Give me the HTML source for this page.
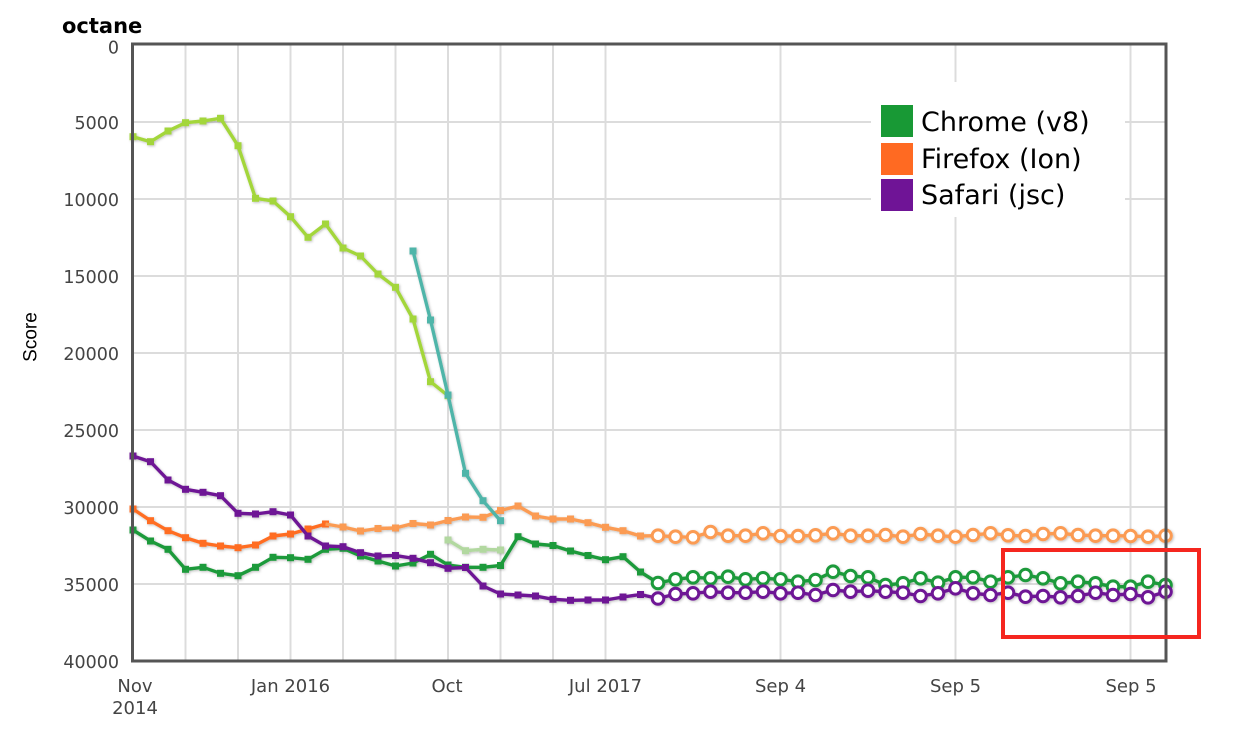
<!DOCTYPE html>
<html>
<head>
<meta charset="utf-8">
<style>
html,body{margin:0;padding:0;background:#fff;}
svg{display:block;}
</style>
</head>
<body>
<svg width="1236" height="734" viewBox="0 0 1236 734" xmlns="http://www.w3.org/2000/svg">
<defs>
<filter id="sh" x="-5%" y="-5%" width="110%" height="110%">
<feDropShadow dx="1" dy="1" stdDeviation="1.2" flood-color="#000" flood-opacity="0.25"/>
</filter>
<marker id="sqG" markerUnits="userSpaceOnUse" markerWidth="9" markerHeight="9" refX="4.5" refY="4.5" overflow="visible"><rect x="1" y="1" width="7" height="7" fill="#1f9a3b"/></marker>
<marker id="sqOd" markerUnits="userSpaceOnUse" markerWidth="9" markerHeight="9" refX="4.5" refY="4.5" overflow="visible"><rect x="1" y="1" width="7" height="7" fill="#ff6d21"/></marker>
<marker id="sqOl" markerUnits="userSpaceOnUse" markerWidth="9" markerHeight="9" refX="4.5" refY="4.5" overflow="visible"><rect x="1" y="1" width="7" height="7" fill="#fb9b52"/></marker>
<marker id="sqP" markerUnits="userSpaceOnUse" markerWidth="9" markerHeight="9" refX="4.5" refY="4.5" overflow="visible"><rect x="1" y="1" width="7" height="7" fill="#6e1795"/></marker>
<marker id="sqLG" markerUnits="userSpaceOnUse" markerWidth="9" markerHeight="9" refX="4.5" refY="4.5" overflow="visible"><rect x="1" y="1" width="7" height="7" fill="#a3d63a"/></marker>
<marker id="sqT" markerUnits="userSpaceOnUse" markerWidth="9" markerHeight="9" refX="4.5" refY="4.5" overflow="visible"><rect x="1" y="1" width="7" height="7" fill="#4fb5a9"/></marker>
<marker id="sqF" markerUnits="userSpaceOnUse" markerWidth="9" markerHeight="9" refX="4.5" refY="4.5" overflow="visible"><rect x="1" y="1" width="7" height="7" fill="#b2d8a0"/></marker>
<marker id="ciO" markerUnits="userSpaceOnUse" markerWidth="16" markerHeight="16" refX="8" refY="8" overflow="visible"><circle cx="8" cy="8" r="5.8" fill="#fff" stroke="#fb9b52" stroke-width="3"/></marker>
<marker id="ciG" markerUnits="userSpaceOnUse" markerWidth="16" markerHeight="16" refX="8" refY="8" overflow="visible"><circle cx="8" cy="8" r="5.8" fill="#fff" stroke="#1f9a3b" stroke-width="3"/></marker>
<marker id="ciP" markerUnits="userSpaceOnUse" markerWidth="16" markerHeight="16" refX="8" refY="8" overflow="visible"><circle cx="8" cy="8" r="5.8" fill="#fff" stroke="#6e1795" stroke-width="3"/></marker>
</defs>

<!-- gridlines -->
<g stroke="#dcdcdc" stroke-width="2">
<line x1="133" y1="122" x2="1166" y2="122"/>
<line x1="133" y1="199" x2="1166" y2="199"/>
<line x1="133" y1="276" x2="1166" y2="276"/>
<line x1="133" y1="353" x2="1166" y2="353"/>
<line x1="133" y1="430" x2="1166" y2="430"/>
<line x1="133" y1="507" x2="1166" y2="507"/>
<line x1="133" y1="584" x2="1166" y2="584"/>
<line x1="185.5" y1="44" x2="185.5" y2="661"/>
<line x1="238" y1="44" x2="238" y2="661"/>
<line x1="290.5" y1="44" x2="290.5" y2="661"/>
<line x1="343" y1="44" x2="343" y2="661"/>
<line x1="395.5" y1="44" x2="395.5" y2="661"/>
<line x1="448" y1="44" x2="448" y2="661"/>
<line x1="500.5" y1="44" x2="500.5" y2="661"/>
<line x1="553" y1="44" x2="553" y2="661"/>
<line x1="605.5" y1="44" x2="605.5" y2="661"/>
<line x1="780.5" y1="44" x2="780.5" y2="661"/>
<line x1="955.5" y1="44" x2="955.5" y2="661"/>
<line x1="1130.5" y1="44" x2="1130.5" y2="661"/>
</g>

<!-- legend background -->
<rect x="871" y="82" width="254" height="135" fill="#fff"/>

<!-- series -->
<g fill="none" stroke-width="3.4" stroke-linejoin="round" filter="url(#sh)">
<polyline stroke="#1f9a3b" marker-start="url(#sqG)" marker-mid="url(#sqG)" marker-end="url(#sqG)" points="133,530 150.5,541 168,549.3 185.5,569.3 203,567.3 220.5,573.3 238,575.7 255.5,567.3 273,557.3 290.5,557.7 308,559.3 325.5,549.3 343,548.3 360.5,556 378,561 395.5,566 413,563 430.5,554.3 448,565 465.5,567.3 483,567.3 500.5,565.5 518,536.7 535.5,544 553,545.5 570.5,551 588,555.5 605.5,559.7 623,556.7 640.5,572"/>
<polyline stroke="#1f9a3b" points="640.5,572 658,583 675.5,579.3 693,577.3 710.5,578.3 728,576.7 745.5,579.3 763,578.3 780.5,579.3 798,581.7 815.5,580 833,571.7 850.5,576 868,577.3 885.5,585 903,583.3 920.5,578.3 938,582.7 955.5,577.3 973,577.3 990.5,581.7 1008,577.3 1025.5,575 1043,578.3 1060.5,583.3 1078,581.7 1095.5,583.3 1113,586.7 1130.5,586.7 1148,581.7 1165.5,585"/>

<polyline stroke="#ff6d21" marker-start="url(#sqOd)" marker-mid="url(#sqOd)" marker-end="url(#sqOd)" points="133,509 150.5,520.7 168,530.7 185.5,537.7 203,543.3 220.5,546 238,547.7 255.5,545 273,536 290.5,534 308,529 325.5,524"/>
<polyline stroke="#fb9b52" marker-mid="url(#sqOl)" marker-end="url(#sqOl)" points="325.5,524 343,527 360.5,531 378,528.5 395.5,528 413,523.5 430.5,525 448,520.5 465.5,517 483,517.3 500.5,510.5 518,506 535.5,516 553,519 570.5,519 588,522.7 605.5,527.3 623,530.7 640.5,536"/>
<polyline stroke="#fb9b52" points="640.5,536 658,535.7 675.5,536.7 693,537.3 710.5,532 728,535.7 745.5,535.7 763,533.3 780.5,536 798,536 815.5,535.3 833,533.3 850.5,535.7 868,535.7 885.5,535 903,536.7 920.5,534 938,535.7 955.5,536.7 973,535 990.5,533.3 1008,535.3 1025.5,536 1043,534 1060.5,533.3 1078,535 1095.5,535.7 1113,535.7 1130.5,536 1148,536.7 1165.5,535.7"/>

<polyline stroke="#6e1795" marker-start="url(#sqP)" marker-mid="url(#sqP)" marker-end="url(#sqP)" points="133,456 150.5,461.7 168,480 185.5,489.3 203,492.3 220.5,495.7 238,513.3 255.5,514 273,511.7 290.5,515 308,536 325.5,546 343,546.7 360.5,552.7 378,556 395.5,555.5 413,558.3 430.5,562.7 448,568.3 465.5,567.5 483,586 500.5,594 518,595 535.5,596 553,599.3 570.5,600.3 588,600 605.5,600 623,597 640.5,594.5"/>
<polyline stroke="#6e1795" points="640.5,594.5 658,598.5 675.5,594 693,593.3 710.5,591.7 728,592.7 745.5,592.7 763,591.7 780.5,593.3 798,592.7 815.5,595 833,590 850.5,591.7 868,590.7 885.5,591.7 903,592.7 920.5,596 938,593.3 955.5,588.3 973,593.3 990.5,595 1008,592.7 1025.5,596.7 1043,596 1060.5,597.3 1078,596 1095.5,592.7 1113,595 1130.5,594 1148,597.3 1165.5,591.7"/>

<polyline stroke="#b2d8a0" marker-start="url(#sqF)" marker-mid="url(#sqF)" marker-end="url(#sqF)" points="448,540 465.5,550.7 483,549.3 500.5,550"/>
<polyline stroke="#a3d63a" marker-start="url(#sqLG)" marker-mid="url(#sqLG)" marker-end="url(#sqLG)" points="133,136.7 150.5,141.7 168,131 185.5,122.7 203,121 220.5,118.3 238,145.7 255.5,198.3 273,201 290.5,216.7 308,237.3 325.5,224 343,248 360.5,256 378,274 395.5,287.3 413,319 430.5,381.7 448,395.7"/>
<polyline stroke="#4fb5a9" marker-start="url(#sqT)" marker-mid="url(#sqT)" marker-end="url(#sqT)" points="413,251 430.5,320 448,395 465.5,473.3 483,500.7 500.5,520.7"/>

<polyline stroke="none" marker-start="url(#ciO)" marker-mid="url(#ciO)" marker-end="url(#ciO)" points="658,535.7 675.5,536.7 693,537.3 710.5,532 728,535.7 745.5,535.7 763,533.3 780.5,536 798,536 815.5,535.3 833,533.3 850.5,535.7 868,535.7 885.5,535 903,536.7 920.5,534 938,535.7 955.5,536.7 973,535 990.5,533.3 1008,535.3 1025.5,536 1043,534 1060.5,533.3 1078,535 1095.5,535.7 1113,535.7 1130.5,536 1148,536.7 1165.5,535.7"/>
<polyline stroke="none" marker-start="url(#ciG)" marker-mid="url(#ciG)" marker-end="url(#ciG)" points="658,583 675.5,579.3 693,577.3 710.5,578.3 728,576.7 745.5,579.3 763,578.3 780.5,579.3 798,581.7 815.5,580 833,571.7 850.5,576 868,577.3 885.5,585 903,583.3 920.5,578.3 938,582.7 955.5,577.3 973,577.3 990.5,581.7 1008,577.3 1025.5,575 1043,578.3 1060.5,583.3 1078,581.7 1095.5,583.3 1113,586.7 1130.5,586.7 1148,581.7 1165.5,585"/>
<polyline stroke="none" marker-start="url(#ciP)" marker-mid="url(#ciP)" marker-end="url(#ciP)" points="658,598.5 675.5,594 693,593.3 710.5,591.7 728,592.7 745.5,592.7 763,591.7 780.5,593.3 798,592.7 815.5,595 833,590 850.5,591.7 868,590.7 885.5,591.7 903,592.7 920.5,596 938,593.3 955.5,588.3 973,593.3 990.5,595 1008,592.7 1025.5,596.7 1043,596 1060.5,597.3 1078,596 1095.5,592.7 1113,595 1130.5,594 1148,597.3 1165.5,591.7"/>
</g>

<!-- plot border -->
<rect x="132.5" y="44" width="1033.5" height="617" fill="none" stroke="#555" stroke-width="3"/>

<!-- legend -->
<rect x="881" y="105" width="32" height="32" fill="#189935"/>
<rect x="881" y="143" width="32" height="32" fill="#ff6a22"/>
<rect x="881" y="179" width="32" height="32" fill="#6f1496"/>
<g font-family="'DejaVu Sans', Verdana, sans-serif" font-size="27" fill="#000">
<text x="921" y="131">Chrome (v8)</text>
<text x="921" y="168">Firefox (Ion)</text>
<text x="921" y="204">Safari (jsc)</text>
</g>

<!-- title -->
<text x="62" y="33" font-family="'DejaVu Sans', Verdana, sans-serif" font-size="21" font-weight="bold" fill="#000">octane</text>

<!-- y tick labels -->
<g font-family="'DejaVu Sans', Verdana, sans-serif" font-size="17.5" fill="#444" text-anchor="end">
<text x="119" y="53.5">0</text>
<text x="119" y="129">5000</text>
<text x="119" y="206">10000</text>
<text x="119" y="283">15000</text>
<text x="119" y="360">20000</text>
<text x="119" y="437">25000</text>
<text x="119" y="514">30000</text>
<text x="119" y="591">35000</text>
<text x="119" y="668">40000</text>
</g>

<!-- x tick labels -->
<g font-family="'DejaVu Sans', Verdana, sans-serif" font-size="18" fill="#444" text-anchor="middle">
<text x="135" y="692">Nov</text>
<text x="135" y="714">2014</text>
<text x="290.5" y="692">Jan 2016</text>
<text x="447" y="692">Oct</text>
<text x="605.5" y="692">Jul 2017</text>
<text x="780.5" y="692">Sep 4</text>
<text x="955.5" y="692">Sep 5</text>
<text x="1131" y="692">Sep 5</text>
</g>

<!-- y axis title -->
<text transform="translate(36.5,337) rotate(-90)" text-anchor="middle" font-family="'Liberation Sans', Arial, sans-serif" font-size="19" fill="#000">Score</text>

<!-- red highlight box -->
<rect x="1003" y="550" width="196" height="87" fill="none" stroke="#f5261f" stroke-width="4"/>
</svg>
</body>
</html>
